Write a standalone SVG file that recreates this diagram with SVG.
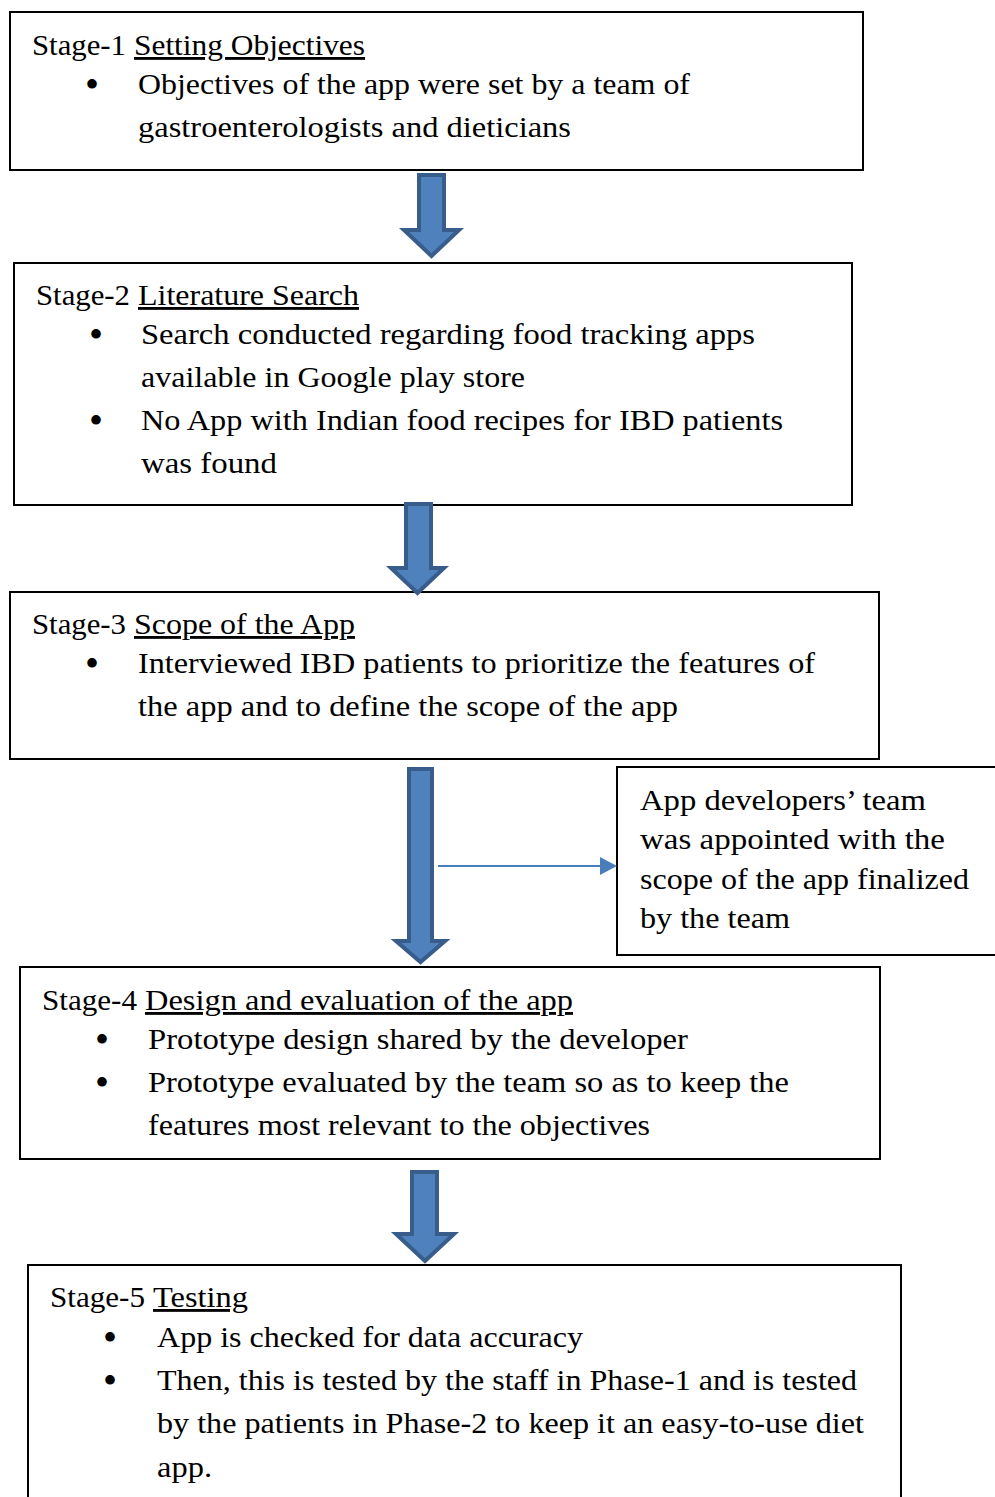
<svg xmlns="http://www.w3.org/2000/svg" width="995" height="1497" viewBox="0 0 995 1497">
<style>
.box{fill:#fff;stroke:#000;stroke-width:2}
.t{font-family:"Liberation Serif","Times New Roman",serif;font-size:28.5px;fill:#000}
.b{font-family:"Liberation Serif","Times New Roman",serif;font-size:40px;fill:#000;text-anchor:middle}
.u{text-decoration:underline}
.blk{fill:#4F81BD;stroke:#385D8A;stroke-width:4;stroke-linejoin:miter}
.ln{stroke:#4A7EBB;stroke-width:2;fill:none}
</style>
<rect width="995" height="1497" fill="#fff"/>
<g id="stage1">
<rect class="box" x="10" y="12" width="853" height="158"/>
<text class="t" x="32" y="55" textLength="94" lengthAdjust="spacingAndGlyphs">Stage-1</text>
<text class="t u" x="134" y="55" textLength="231" lengthAdjust="spacingAndGlyphs">Setting Objectives</text>
<text class="b" x="92" y="98">•</text>
<text class="t" x="138" y="94" textLength="552" lengthAdjust="spacingAndGlyphs">Objectives of the app were set by a team of</text>
<text class="t" x="138" y="137" textLength="433" lengthAdjust="spacingAndGlyphs">gastroenterologists and dieticians</text>
</g>
<g id="stage2">
<rect class="box" x="14" y="263" width="838" height="242"/>
<text class="t" x="36" y="305" textLength="94" lengthAdjust="spacingAndGlyphs">Stage-2</text>
<text class="t u" x="138" y="305" textLength="221" lengthAdjust="spacingAndGlyphs">Literature Search</text>
<text class="b" x="96" y="348">•</text>
<text class="t" x="141" y="344" textLength="614" lengthAdjust="spacingAndGlyphs">Search conducted regarding food tracking apps</text>
<text class="t" x="141" y="387" textLength="384" lengthAdjust="spacingAndGlyphs">available in Google play store</text>
<text class="b" x="96" y="434">•</text>
<text class="t" x="141" y="430" textLength="642" lengthAdjust="spacingAndGlyphs">No App with Indian food recipes for IBD patients</text>
<text class="t" x="141" y="473" textLength="136" lengthAdjust="spacingAndGlyphs">was found</text>
</g>
<g id="stage3">
<rect class="box" x="10" y="592" width="869" height="167"/>
<text class="t" x="32" y="634" textLength="94" lengthAdjust="spacingAndGlyphs">Stage-3</text>
<text class="t u" x="134" y="634" textLength="221" lengthAdjust="spacingAndGlyphs">Scope of the App</text>
<text class="b" x="92" y="677">•</text>
<text class="t" x="138" y="673" textLength="677" lengthAdjust="spacingAndGlyphs">Interviewed IBD patients to prioritize the features of</text>
<text class="t" x="138" y="716" textLength="540" lengthAdjust="spacingAndGlyphs">the app and to define the scope of the app</text>
</g>
<g id="team">
<rect class="box" x="617" y="767" width="390" height="188"/>
<text class="t" x="640" y="810" textLength="286" lengthAdjust="spacingAndGlyphs">App developers’ team</text>
<text class="t" x="640" y="849" textLength="305" lengthAdjust="spacingAndGlyphs">was appointed with the</text>
<text class="t" x="640" y="889" textLength="329" lengthAdjust="spacingAndGlyphs">scope of the app finalized</text>
<text class="t" x="640" y="928" textLength="150" lengthAdjust="spacingAndGlyphs">by the team</text>
</g>
<g id="stage4">
<rect class="box" x="20" y="967" width="860" height="192"/>
<text class="t" x="42" y="1010" textLength="95" lengthAdjust="spacingAndGlyphs">Stage-4</text>
<text class="t u" x="145" y="1010" textLength="428" lengthAdjust="spacingAndGlyphs">Design and evaluation of the app</text>
<text class="b" x="102" y="1053">•</text>
<text class="t" x="148" y="1049" textLength="540" lengthAdjust="spacingAndGlyphs">Prototype design shared by the developer</text>
<text class="b" x="102" y="1096">•</text>
<text class="t" x="148" y="1092" textLength="641" lengthAdjust="spacingAndGlyphs">Prototype evaluated by the team so as to keep the</text>
<text class="t" x="148" y="1135" textLength="502" lengthAdjust="spacingAndGlyphs">features most relevant to the objectives</text>
</g>
<g id="stage5">
<rect class="box" x="28" y="1265" width="873" height="245"/>
<text class="t" x="50" y="1307" textLength="95" lengthAdjust="spacingAndGlyphs">Stage-5</text>
<text class="t u" x="153" y="1307" textLength="95" lengthAdjust="spacingAndGlyphs">Testing</text>
<text class="b" x="110" y="1351">•</text>
<text class="t" x="157" y="1347" textLength="426" lengthAdjust="spacingAndGlyphs">App is checked for data accuracy</text>
<text class="b" x="110" y="1394">•</text>
<text class="t" x="157" y="1390" textLength="700" lengthAdjust="spacingAndGlyphs">Then, this is tested by the staff in Phase-1 and is tested</text>
<text class="t" x="157" y="1433" textLength="707" lengthAdjust="spacingAndGlyphs">by the patients in Phase-2 to keep it an easy-to-use diet</text>
<text class="t" x="157" y="1477" textLength="55" lengthAdjust="spacingAndGlyphs">app.</text>
</g>
<g id="connectors">
<polygon class="blk" points="419,175 444,175 444,230 459,230 431.5,256 404,230 419,230"/>
<polygon class="blk" points="406,504 431,504 431,568 444,568 417.5,593 391,568 406,568"/>
<polygon class="blk" points="409,769 432,769 432,941 445,941 420.5,962 396,941 409,941"/>
<polygon class="blk" points="412,1172 437,1172 437,1234 454,1234 425,1261 396,1234 412,1234"/>
<line class="ln" x1="438" y1="866" x2="602" y2="866"/>
<polygon points="600,857 617,866 600,875" fill="#4A7EBB"/>
</g>
</svg>
